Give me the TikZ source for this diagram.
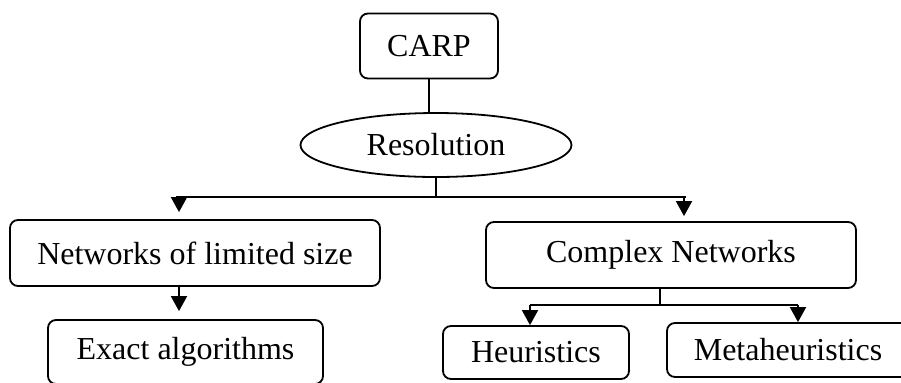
\documentclass[tikz,border=0pt]{standalone}
\usepackage{fontspec}
\setmainfont{Liberation Serif}
\usetikzlibrary{arrows.meta, positioning, shapes.geometric, calc}

\begin{document}
\begin{tikzpicture}[
  x=0.5pt, y=-0.5pt,
  box/.style={
    rectangle, rounded corners=4pt, draw,
    line width=0.9pt, inner sep=0pt, font=\fontsize{16}{19}\selectfont},
  oval/.style={
    ellipse, draw, line width=0.9pt, inner sep=0pt,
    minimum width=135.5pt, minimum height=32pt, font=\fontsize{16}{19}\selectfont},
  link/.style={line width=0.9pt},
  arr/.style={-{Triangle[length=7.5pt, width=8pt]}, line width=0.9pt},
]
  \useasboundingbox (0,0) rectangle (901,382);

  \node[box, minimum width=69pt, minimum height=32.5pt] (carp) at (429, 46) {CARP};
  \node[oval] (res) at (436, 145) {Resolution};

  \node[box, minimum width=185pt, minimum height=33pt] (net) at (195, 253) {Networks of limited size};
  \node[box, minimum width=185pt, minimum height=33pt] (cn) at (671, 255) {Complex Networks};

  \node[box, minimum width=137.5pt, minimum height=32pt] (exa) at (185.5, 352) {Exact algorithms};
  \node[box, minimum width=93pt, minimum height=26.5pt] (heu) at (536, 352.5) {Heuristics};
  \node[box, minimum width=121pt, minimum height=27pt] (meta) at (788, 350) {Metaheuristics};

  \coordinate (brL) at (179, 197);
  \coordinate (brR) at (684, 197);
  \coordinate (hL) at (530, 305);
  \coordinate (hR) at (798, 305);

  % Top part
  \draw[link] (carp.south) -- (carp.south |- res.north);
  \draw[link] (res.south) -- (res.south |- brL);
  \draw[link] ([xshift=-1.5pt]brL) -- ([xshift=1pt]brR);
  \draw[arr, shorten >=3.5pt] (brL) -- (brL |- net.north);
  \draw[arr, shorten >=2.5pt] (brR) -- (brR |- cn.north);

  % Limited size
  \draw[arr, shorten >=4pt] ([xshift=-8pt]net.south) -- ([xshift=-8pt]net.south |- exa.north);

  % Complex
  \draw[link] ([xshift=-5.5pt]cn.south) -- ([xshift=-5.5pt]cn.south |- hL);
  \draw[link] (hL) -- (hR);
  \draw[arr] (hL) -- (hL |- heu.north);
  \draw[arr] (hR) -- (hR |- meta.north);
\end{tikzpicture}
\end{document}
